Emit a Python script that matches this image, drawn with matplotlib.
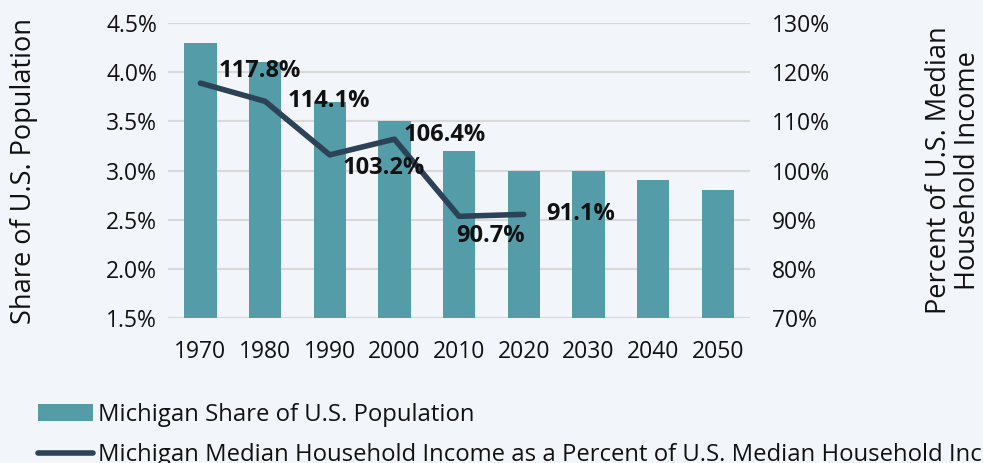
import matplotlib.pyplot as plt
from matplotlib.patches import Patch
from matplotlib.lines import Line2D
from matplotlib.ticker import FuncFormatter

plt.rcParams['font.family'] = ['Open Sans', 'DejaVu Sans']

years = ["1970", "1980", "1990", "2000", "2010", "2020", "2030", "2040", "2050"]
pop_share = [4.3, 4.1, 3.7, 3.5, 3.2, 3.0, 3.0, 2.9, 2.8]
income_years = ["1970", "1980", "1990", "2000", "2010", "2020"]
income_pct = [117.8, 114.1, 103.2, 106.4, 90.7, 91.1]

bg = "#F2F6FA"
bar_col = "#549DA8"
line_col = "#2B4257"
txt = "#111111"

fig = plt.figure(figsize=(9.83, 4.63), dpi=100, facecolor=bg)
ax = fig.add_axes([0.171, 0.313, 0.592, 0.637])
ax.set_facecolor(bg)

x = list(range(len(years)))
ax.bar(x, pop_share, width=0.5, color=bar_col, zorder=2)
ax.set_xlim(-0.5, len(years) - 0.5)
ax.set_ylim(1.5, 4.5)
ax.set_yticks([1.5, 2.0, 2.5, 3.0, 3.5, 4.0, 4.5])
ax.yaxis.set_major_formatter(FuncFormatter(lambda v, p: f"{v:.1f}%"))
ax.set_xticks(x)
ax.set_xticklabels(years)
ax.grid(axis='y', color="#D9D9D9", linewidth=1.5, zorder=0)
for s in ax.spines.values():
    s.set_visible(False)
ax.tick_params(length=0, labelsize=16.5, colors=txt, pad=8)
ax.tick_params(axis='x', pad=16)
ax.set_ylabel("Share of U.S. Population", fontsize=19.5, color=txt)
ax.yaxis.set_label_coords(-0.223, 0.5)

ax2 = ax.twinx()
xi = [years.index(y) for y in income_years]
ax2.plot(xi, income_pct, color=line_col, linewidth=4, solid_capstyle='round', zorder=3)
ax2.set_ylim(70, 130)
ax2.set_yticks([70, 80, 90, 100, 110, 120, 130])
ax2.yaxis.set_major_formatter(FuncFormatter(lambda v, p: f"{v:.0f}%"))
for s in ax2.spines.values():
    s.set_visible(False)
ax2.tick_params(length=0, labelsize=16.5, colors=txt, pad=16)
ax2.set_ylabel("Percent of U.S. Median\nHousehold Income", fontsize=19.5, color=txt,
               linespacing=1.05)
ax2.yaxis.set_label_coords(1.300, 0.5)

# data label offsets (points)
offsets = [(13, 9), (16.5, 0), (9.5, -9.5), (6.5, 3), (-2, -14.5), (16, 0)]
for xv, yv, (dx, dy) in zip(xi, income_pct, offsets):
    ax2.annotate(f"{yv:.1f}%", (xv, yv), xytext=(dx, dy), textcoords='offset points',
                 fontsize=17, fontweight='bold', color=txt, va='center', ha='left',
                 zorder=4)

handles = [Patch(facecolor=bar_col, edgecolor='none'),
           Line2D([0], [0], color=line_col, linewidth=4, solid_capstyle='round')]
labels = ["Michigan Share of U.S. Population",
          "Michigan Median Household Income as a Percent of U.S. Median Household Income"]
fig.legend(handles, labels, loc='upper left', bbox_to_anchor=(0.0387, 0.130), frameon=False,
           fontsize=17.2, handlelength=2.3, handletextpad=0.2, labelspacing=0.68,
           borderpad=0, borderaxespad=0, labelcolor=txt)

fig.savefig("out.png", dpi=100, facecolor=bg)
